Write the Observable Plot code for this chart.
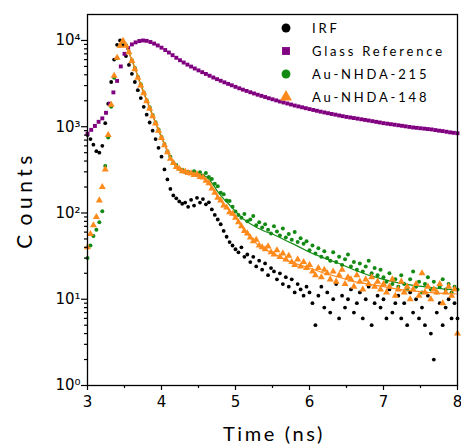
<!DOCTYPE html>
<html><head><meta charset="utf-8">
<script src="https://cdn.jsdelivr.net/npm/d3@7"></script>
<script src="https://cdn.jsdelivr.net/npm/@observablehq/plot@0.6"></script>
<style>body{margin:0;background:#fff}</style>
</head><body><div id="chart"></div>
<script>
// Time grids (ns): channels for IRF / Au-NHDA series, and for the glass reference
const tStart = 3.0, tStep = 0.04;
const glassStart = 3.0, glassStep = 0.05;

// one row = 1 ns (25 channels)
const irf = [
  800, 720, 620, 520, 500, 600, 1100, 1850, 3300, 6000, 8900, 10000, 8900, 6600, 5200, 4100, 3300, 2650, 2150, 1700, 1380, 1120, 900, 720, 570,
  450, 320, 245, 190, 160, 148, 136, 128, 132, 118, 142, 122, 150, 132, 145, 126, 133, 110, 95, 84, 74, 62, 53, 46, 42,
  38, 35, 40, 31, 33, 27, 31, 24, 28, 22, 26, 19, 23, 21, 17, 20, 15, 18, 14, 17, 12, 15, 13, 11, 14,
  12, 9, 5, 11, 14, 8, 12, 7, 10, 15, 6, 11, 8, 10, 13, 7, 9, 12, 6, 10, 14, 5, 9, 11, 8,
  10, 6, 13, 7, 9, 11, 6, 9, 5, 12, 7, 10, 6, 8, 5, 11, 4, 2, 7, 9, 5, 8, 10, 6, 9,
  6
];

// one row = 0.5 ns
const glass = [
  830, 920, 1020, 1140, 1250, 1450, 1850, 2500, 3400, 5000,
  7000, 8200, 9000, 9500, 9850, 10000, 9900, 9600, 9200, 8750,
  8250, 7750, 7250, 6750, 6300, 5900, 5550, 5250, 4980, 4730,
  4500, 4290, 4090, 3900, 3720, 3560, 3410, 3270, 3140, 3020,
  2900, 2790, 2690, 2600, 2510, 2430, 2350, 2280, 2210, 2140,
  2080, 2020, 1960, 1910, 1860, 1810, 1760, 1720, 1680, 1640,
  1600, 1565, 1530, 1495, 1465, 1435, 1405, 1380, 1350, 1325,
  1300, 1280, 1260, 1240, 1220, 1200, 1180, 1160, 1140, 1120,
  1100, 1085, 1070, 1055, 1040, 1025, 1010, 995, 980, 970,
  960, 950, 940, 930, 915, 900, 890, 875, 860, 850,
  840
];

const au215 = [
  30, 42, 54, 64, 78, 105, 350, 750, 1700, 3700, 6200, 8700, 9800, 8800, 7300, 5900, 4800, 3800, 3100, 2500, 2030, 1680, 1370, 1130, 930,
  760, 630, 520, 450, 385, 360, 326, 318, 298, 300, 290, 305, 278, 296, 272, 290, 262, 248, 218, 204, 172, 165, 140, 138, 118,
  104, 95, 88, 97, 80, 84, 92, 72, 78, 68, 74, 64, 58, 70, 61, 55, 66, 52, 57, 49, 60, 46, 51, 44, 47,
  37, 42, 34, 39, 31, 36, 30, 28, 35, 27, 31, 25, 29, 33, 24, 27, 22, 26, 21, 24, 28, 20, 23, 19, 22,
  18, 16, 20, 15, 17, 14, 19, 15, 13, 17, 21, 14, 16, 12, 15, 18, 13, 16, 12, 14, 17, 13, 15, 12, 14,
  13
];

const au148 = [
  40, 57, 72, 90, 140, 200, 320, 800, 1800, 3900, 6300, 8700, 9900, 8700, 7300, 5800, 4650, 3700, 3000, 2450, 1980, 1620, 1320, 1090, 900,
  740, 610, 505, 425, 380, 342, 325, 305, 302, 290, 288, 276, 282, 262, 258, 236, 222, 192, 172, 150, 140, 122, 116, 102, 98,
  88, 78, 70, 62, 58, 52, 47, 49, 42, 40, 38, 41, 35, 33, 37, 31, 34, 29, 32, 27, 25, 29, 24, 27, 23,
  25, 21, 19, 23, 18, 22, 20, 17, 21, 16, 19, 22, 15, 18, 17, 14, 19, 16, 13, 17, 15, 18, 14, 16, 13,
  15, 12, 14, 17, 11, 13, 16, 12, 14, 10, 13, 15, 11, 20, 12, 14, 10, 13, 12, 15, 9, 12, 14, 11, 13,
  4
];

// Fitted decay curves (drawn as lines)
const fitTimes = [3.45, 3.5, 3.55, 3.6, 3.65, 3.7, 3.75, 3.8, 3.85, 3.9, 3.95, 4.0, 4.05, 4.1, 4.15, 4.2, 4.25, 4.3, 4.35, 4.4,
  4.45, 4.5, 4.55, 4.6, 4.65, 4.7, 4.75, 4.8, 4.85, 4.9, 4.95, 5.0, 5.1, 5.2, 5.3, 5.4, 5.5, 5.6, 5.7, 5.8,
  6.0, 6.2, 6.4, 6.6, 6.8, 7.0, 7.2, 7.4, 7.6, 7.8, 8.0];
const fit215 = [9200, 9500, 7700, 5900, 4600, 3450, 2650, 2030, 1580, 1230, 960, 760, 600, 475, 400, 355, 325, 308, 296, 290,
  285, 282, 276, 265, 242, 212, 182, 160, 143, 129, 116, 104, 86, 75, 67, 61, 57, 52, 47, 43,
  35, 30, 26, 22, 19, 17, 15.5, 14.5, 13.8, 13.2, 12.8];
const fit148 = [9300, 9400, 7600, 5800, 4500, 3350, 2550, 1980, 1540, 1200, 940, 740, 590, 465, 395, 345, 320, 305, 296, 286,
  280, 270, 258, 240, 215, 185, 158, 138, 122, 110, 98, 88, 66, 52, 43, 38, 34, 31, 28, 26,
  23, 20, 18, 16, 15, 14, 13, 12.5, 12, 11.7, 11.5];

const seriesNames = ["IRF", "Glass Reference", "Au-NHDA-215", "Au-NHDA-148"];
const seriesColors = ["#000000", "#800080", "#138a13", "#ff8a1c"];
const seriesSymbols = ["circle", "square", "circle", "triangle"];

const xTicks = [3, 4, 5, 6, 7, 8];
const xMinorTicks = [3.5, 4.5, 5.5, 6.5, 7.5];
const yTicks = [1, 10, 100, 1000, 10000];
const yTickLabels = ["10⁰", "10¹", "10²", "10³", "10⁴"];
const yMinorTicks = [];
for (const base of [1, 10, 100, 1000]) for (let m = 2; m <= 9; m++) yMinorTicks.push(m * base);

const rows = (arr, start, step) => arr.map((v, i) => ({t: +(start + i * step).toFixed(3), v}));
const fitRows = (vals) => vals.map((v, i) => ({t: fitTimes[i], v}));

const plot = Plot.plot({
  width: 461, height: 446,
  marginLeft: 87, marginRight: 4, marginTop: 14, marginBottom: 61,
  style: {fontFamily: "'DejaVu Sans', sans-serif", fontSize: "15px", background: "#fff", color: "#000"},
  x: {type: "linear", domain: [3, 8], label: null},
  y: {type: "log", domain: [1, 20000], label: null},
  marks: [
    Plot.dot(rows(irf, tStart, tStep), {x: "t", y: "v", r: 1.9, fill: seriesColors[0], symbol: "circle"}),
    Plot.dot(rows(glass, glassStart, glassStep), {x: "t", y: "v", r: 2.2, fill: seriesColors[1], symbol: "square"}),
    Plot.dot(rows(au215, tStart, tStep), {x: "t", y: "v", r: 2, fill: seriesColors[2], symbol: "circle"}),
    Plot.line(fitRows(fit215), {x: "t", y: "v", stroke: seriesColors[2], strokeWidth: 1.2}),
    Plot.dot(rows(au148, tStart, tStep), {x: "t", y: "v", r: 2.6, fill: seriesColors[3], symbol: "triangle"}),
    Plot.line(fitRows(fit148), {x: "t", y: "v", stroke: seriesColors[3], strokeWidth: 1.2}),
    Plot.axisX(xTicks, {tickSize: 5, tickPadding: 6, tickFormat: d => String(d), strokeWidth: 1.2, label: null}),
    Plot.axisX(xMinorTicks, {tickSize: 3, tickFormat: () => "", strokeWidth: 1.2, label: null}),
    Plot.axisY(yTicks, {tickSize: 6, tickPadding: 1, tickFormat: d => yTickLabels[yTicks.indexOf(d)], strokeWidth: 1.2, label: null}),
    Plot.axisY(yMinorTicks, {tickSize: 3, tickFormat: () => "", strokeWidth: 1.2, label: null}),
    Plot.frame({stroke: "#000", strokeWidth: 1.3})
  ]
});

const svg = d3.select(plot);
const labelFont = "Lato, 'Open Sans', sans-serif";
svg.append("text")
  .attr("x", 274).attr("y", 441).attr("text-anchor", "middle")
  .style("font-family", labelFont).style("font-size", "20px").style("letter-spacing", "2.6px")
  .text("Time (ns)");
const yl = svg.append("text")
  .attr("transform", "translate(32,200) rotate(-90)").attr("text-anchor", "middle")
  .style("font-family", labelFont).style("font-size", "21px").style("letter-spacing", "4.5px");
yl.append("tspan").text("C");
yl.append("tspan").attr("dx", 5).text("ounts");

const legendY = [28, 51, 74, 97];
const lg = svg.append("g");
seriesNames.forEach((name, i) => {
  const sym = {circle: d3.symbolCircle, square: d3.symbolSquare, triangle: d3.symbolTriangle}[seriesSymbols[i]];
  lg.append("path")
    .attr("transform", `translate(286,${legendY[i]})`)
    .attr("d", d3.symbol(sym, 62)())
    .attr("fill", seriesColors[i]);
  lg.append("text")
    .attr("x", 312).attr("y", legendY[i]).attr("dy", "0.36em").attr("text-anchor", "start")
    .style("font-family", labelFont).style("font-size", "13px").style("letter-spacing", "2.8px")
    .text(name);
});

document.getElementById("chart").appendChild(plot);
</script>
</body></html>
